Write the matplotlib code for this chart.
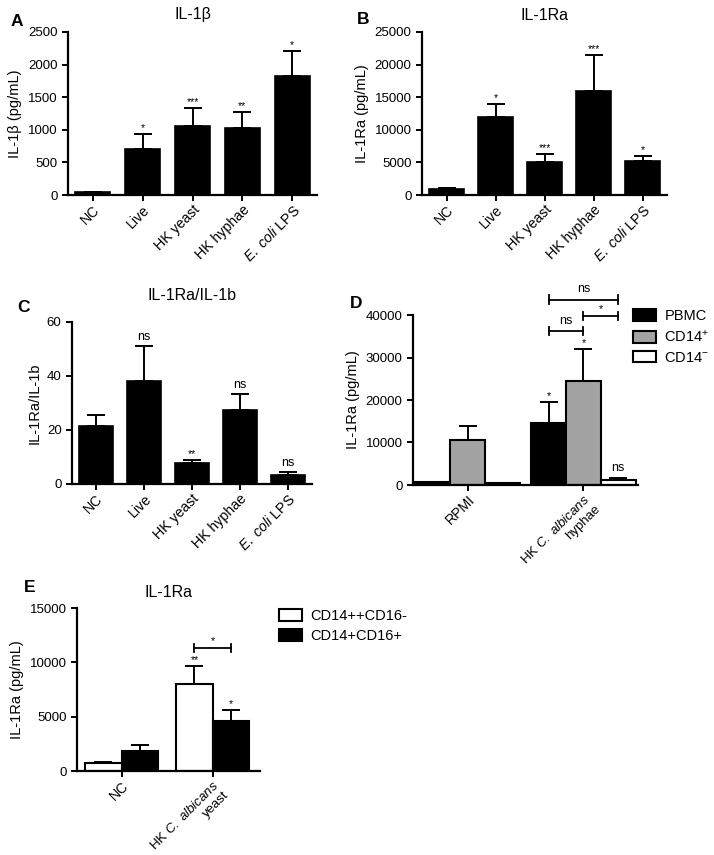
import matplotlib
matplotlib.use("Agg")

import numpy as np
import matplotlib.pyplot as plt
from matplotlib.patches import Patch

# ---- data ----
CONDITIONS = ["NC", "Live", "HK yeast", "HK hyphae", r"$\it{E.\ coli}$ LPS"]

IL1B_MEAN = [50, 710, 1060, 1030, 1820]
IL1B_ERR = [0, 220, 280, 250, 390]
IL1B_SIG = ["", "*", "***", "**", "*"]

IL1RA_MEAN = [900, 12000, 5100, 15900, 5200]
IL1RA_ERR = [100, 2000, 1200, 5600, 800]
IL1RA_SIG = ["", "*", "***", "***", "*"]

RATIO_MEAN = [21.5, 38.3, 7.8, 27.5, 3.5]
RATIO_ERR = [4.0, 12.7, 1.2, 5.8, 1.0]
RATIO_SIG = ["", "ns", "**", "ns", "ns"]

D_GROUPS = ["RPMI", "HK $\\it{C.\\ albicans}$\nhyphae"]
D_SERIES = ["PBMC", "CD14$^{+}$", "CD14$^{-}$"]
D_MEAN = [[800, 14500], [10700, 24400], [500, 1200]]
D_ERR = [[0, 5100], [3100, 7600], [0, 500]]
D_SIG = [["", "*"], ["", "*"], ["", "ns"]]
D_BRACKETS = [(0, 1, 36200, "ns"), (1, 2, 39800, "*"), (0, 2, 43600, "ns")]

E_GROUPS = ["NC", "HK $\\it{C.\\ albicans}$\nyeast"]
E_SERIES = ["CD14++CD16-", "CD14+CD16+"]
E_MEAN = [[700, 8000], [1800, 4600]]
E_ERR = [[150, 1700], [600, 1050]]
E_SIG = [["", "**"], ["", "*"]]
E_BRACKETS = [(0, 1, 11300, "*")]

D_COLORS = ["black", "#a3a3a3", "white"]
E_COLORS = ["white", "black"]

plt.rcParams.update({
    "font.family": ["Liberation Sans", "DejaVu Sans"],
    "mathtext.fontset": "custom",
    "mathtext.rm": "Liberation Sans",
    "mathtext.it": "Liberation Sans:italic",
    "mathtext.bf": "Liberation Sans:bold",
    "axes.linewidth": 1.6,
    "xtick.major.width": 1.4,
    "ytick.major.width": 1.4,
    "xtick.major.size": 4,
    "ytick.major.size": 4,
    "xtick.major.pad": 1.5,
    "xtick.labelsize": 10.2,
    "ytick.labelsize": 9.5,
})

W, H = 714, 855
fig = plt.figure(figsize=(W / 100, H / 100), dpi=100)


def px_axes(left, right, top, bottom):
    return fig.add_axes([left / W, 1 - bottom / H, (right - left) / W, (bottom - top) / H])


def style(ax):
    ax.spines["top"].set_visible(False)
    ax.spines["right"].set_visible(False)
    ax.tick_params(direction="out")


def title_px(ax, text, above):
    # title centre placed `above` pixels over the top of the axes
    h = ax.get_position().height * H
    ax.text(0.5, 1 + above / h, text, transform=ax.transAxes,
            ha="center", va="center", fontsize=11.5)


def sig_label(ax, x, y, text, ymax):
    size = 9 if text == "ns" else 7.5
    off = 0.02 * ymax if text == "ns" else 0.005 * ymax
    ax.text(x, y + off, text, ha="center", va="bottom", fontsize=size)


def single_panel(ax, means, errs, sigs, ymax, step, ylabel):
    x = np.arange(len(means))
    ax.bar(x, means, width=0.7, color="black", edgecolor="black", linewidth=1.2)
    ax.errorbar(x, means, yerr=[np.zeros(len(errs)), errs], fmt="none",
                ecolor="black", elinewidth=1.4, capsize=6.5, capthick=1.4)
    for xi, m, e, s in zip(x, means, errs, sigs):
        if s:
            sig_label(ax, xi, m + e, s, ymax)
    ax.set_xlim(-0.5, 4.5)
    ax.set_ylim(0, ymax)
    ax.set_yticks(np.arange(0, ymax + 1, step))
    ax.set_xticks(x)
    ax.set_xticklabels(CONDITIONS, rotation=45, ha="right", rotation_mode="anchor")
    ax.set_ylabel(ylabel, fontsize=10.5)
    style(ax)


def grouped_panel(ax, means, errs, sigs, colors, width, xlim, ymax, step):
    n = len(means)
    groups = np.arange(len(means[0]))
    centers = []
    for i in range(n):
        xs = groups + (i - (n - 1) / 2) * width
        centers.append(xs)
        ax.bar(xs, means[i], width=width, color=colors[i], edgecolor="black",
               linewidth=1.5, zorder=2)
        ax.errorbar(xs, means[i], yerr=[np.zeros(len(errs[i])), errs[i]], fmt="none",
                    ecolor="black", elinewidth=1.4, capsize=6.5, capthick=1.4, zorder=1)
        for xi, m, e, s in zip(xs, means[i], errs[i], sigs[i]):
            if s:
                sig_label(ax, xi, m + e, s, ymax)
    ax.set_xlim(*xlim)
    ax.set_ylim(0, ymax)
    ax.set_yticks(np.arange(0, ymax + 1, step))
    ax.set_xticks(groups)
    style(ax)
    return centers


def group_labels(ax, labels):
    # first line as the tick label, any second line as its own rotated text
    first = [l.split("\n")[0] for l in labels]
    ax.set_xticklabels(first, rotation=45, ha="right", rotation_mode="anchor")
    for i, (lbl, full) in enumerate(zip(ax.get_xticklabels(), labels)):
        if "\n" not in full:
            continue
        lbl.set_fontsize(9.5)
        step = 9.5 * 1.12
        d = step * np.sqrt(0.5)
        ax.annotate(full.split("\n")[1], xy=(i, 0), xycoords=("data", "axes fraction"),
                    xytext=(d, -5.5 - d), textcoords="offset points",
                    rotation=45, ha="right", va="top", rotation_mode="anchor",
                    fontsize=9.5, annotation_clip=False)


def brackets(ax, centers, spec, ymax):
    for a, b, y, s in spec:
        xa, xb = centers[a][1], centers[b][1]
        ax.plot([xa, xb], [y, y], color="black", lw=1.3, clip_on=False)
        cap = 0.025 * ymax
        for xx in (xa, xb):
            ax.plot([xx, xx], [y - cap, y + cap], color="black", lw=1.3, clip_on=False)
        sig_label(ax, (xa + xb) / 2, y + 0.005 * ymax, s, ymax)


def legend_px(ax, colors, labels, x, y):
    ax.legend(handles=[Patch(facecolor=c, edgecolor="black", linewidth=1.5, label=l)
                       for c, l in zip(colors, labels)],
              loc="upper left", bbox_to_anchor=(x / W, 1 - y / H),
              bbox_transform=fig.transFigure, frameon=False,
              fontsize=10.5, handlelength=1.55, handleheight=0.85, labelspacing=0.4,
              handletextpad=0.6, borderaxespad=0, borderpad=0)


# A
axA = px_axes(68, 317, 32, 195)
single_panel(axA, IL1B_MEAN, IL1B_ERR, IL1B_SIG, 2500, 500, "IL-1β (pg/mL)")
title_px(axA, "IL-1β", 17)

# B
axB = px_axes(422, 667, 32, 195)
single_panel(axB, IL1RA_MEAN, IL1RA_ERR, IL1RA_SIG, 25000, 5000, "IL-1Ra (pg/mL)")
title_px(axB, "IL-1Ra", 17)

# C
axC = px_axes(72, 312, 322, 484)
single_panel(axC, RATIO_MEAN, RATIO_ERR, RATIO_SIG, 60, 20, "IL-1Ra/IL-1b")
title_px(axC, "IL-1Ra/IL-1b", 26)

# D
axD = px_axes(413, 638, 315, 485)
cD = grouped_panel(axD, D_MEAN, D_ERR, D_SIG, D_COLORS, 0.3, (-0.47, 1.47), 40000, 10000)
brackets(axD, cD, D_BRACKETS, 40000)
group_labels(axD, D_GROUPS)
axD.set_ylabel("IL-1Ra (pg/mL)", fontsize=10.5)
legend_px(axD, D_COLORS, D_SERIES, 633, 309)

# E
axE = px_axes(77, 260, 608, 771)
cE = grouped_panel(axE, E_MEAN, E_ERR, E_SIG, E_COLORS, 0.4, (-0.49, 1.52), 15000, 5000)
brackets(axE, cE, E_BRACKETS, 15000)
group_labels(axE, E_GROUPS)
axE.set_ylabel("IL-1Ra (pg/mL)", fontsize=10.5)
title_px(axE, "IL-1Ra", 16)
legend_px(axE, E_COLORS, E_SERIES, 279, 609)

# panel letters
for letter, (x, y) in {"A": (11, 21), "B": (357, 20), "C": (17, 307),
                       "D": (350, 303), "E": (24, 587)}.items():
    fig.text(x / W, 1 - y / H, letter, fontsize=12.5, fontweight="bold", va="center")

fig.savefig("out.png", dpi=100)
